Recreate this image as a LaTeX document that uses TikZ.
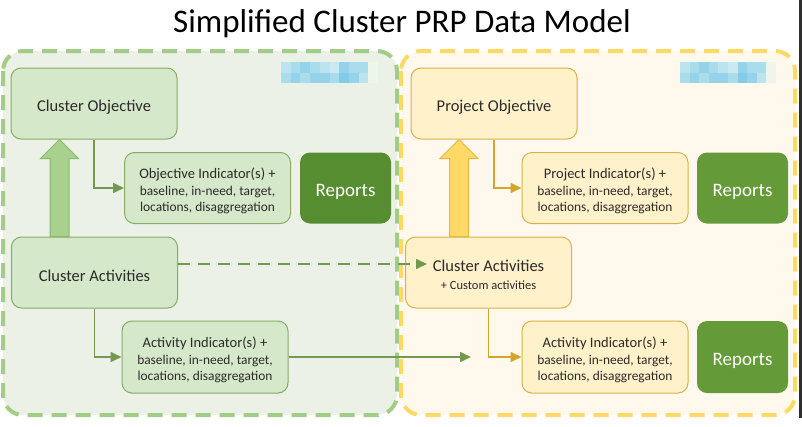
\documentclass[tikz,border=0pt]{standalone}
\usepackage{fontspec}
\setmainfont{Carlito}
\usetikzlibrary{arrows.meta,calc}
\definecolor{gcontfill}{HTML}{EBF1E6}
\definecolor{gcontline}{HTML}{A3CD86}
\definecolor{gboxfill}{HTML}{D6E8CA}
\definecolor{gboxline}{HTML}{86AC68}
\definecolor{garrfill}{HTML}{A9D18E}
\definecolor{garrline}{HTML}{8DB870}
\definecolor{gconn}{HTML}{73984F}
\definecolor{repA}{HTML}{568D30}
\definecolor{repB}{HTML}{659A38}
\definecolor{ycontfill}{HTML}{FEF9EC}
\definecolor{ycontline}{HTML}{FFD966}
\definecolor{yboxfill}{HTML}{FFF1C9}
\definecolor{yboxline}{HTML}{D9B24A}
\definecolor{yarrfill}{HTML}{FFD966}
\definecolor{yarrline}{HTML}{E2B847}
\definecolor{yconn}{HTML}{D4A52C}
\definecolor{txt}{HTML}{2A2A2A}
\definecolor{lbA}{HTML}{A9DDEC}
\definecolor{lbB}{HTML}{94D3E9}
\definecolor{lbC}{HTML}{BCE4EF}
\definecolor{lbD}{HTML}{82CCE8}
\definecolor{lbE}{HTML}{CBE9F0}
\definecolor{lbF}{HTML}{EEF5EA}
\newcommand{\lowerby}[1]{\rule{0pt}{#1}}
\begin{document}
\begin{tikzpicture}[x=1pt,y=-1pt,
  container/.style={rounded corners=20pt, line width=4pt, dash pattern=on 15pt off 9pt},
  gbox/.style={draw=gboxline, fill=gboxfill, line width=1pt, rounded corners=10pt, inner sep=0pt, align=center, text=txt},
  ybox/.style={draw=yboxline, fill=yboxfill, line width=1pt, rounded corners=10pt, inner sep=0pt, align=center, text=txt},
  objsize/.style={minimum width=166pt, minimum height=71pt, font=\fontsize{16.5}{20}\selectfont},
  indsize/.style={minimum width=166pt, minimum height=71pt, font=\fontsize{13.4}{16.5}\selectfont},
  repbox/.style={rounded corners=10pt, inner sep=0pt, minimum width=91pt, minimum height=71pt, text=white, font=\fontsize{19}{22}\selectfont},
  gconnector/.style={draw=gconn, line width=1.6pt, -{Triangle[length=11pt,width=10pt]}},
  yconnector/.style={draw=yconn, line width=1.6pt, -{Triangle[length=11pt,width=10pt]}},
  bigG/.style={draw=garrline, fill=garrfill, line width=1pt},
  bigY/.style={draw=yarrline, fill=yarrfill, line width=1pt},
]
\useasboundingbox (0,0) rectangle (802,426);
\fill[white] (0,0) rectangle (802,426);
\fill[black!82] (799,0) rectangle (802,418);

% title
\node[font=\fontsize{33}{38}\selectfont, text=black] (title) at (402,23.5) {Simplified Cluster PRP Data Model};

% containers
\draw[container, draw=gcontline, fill=gcontfill] (3,51) rectangle (397,415);
\draw[container, draw=ycontline, fill=ycontfill] (401,51) rectangle (795,415);

% blurred logos
\foreach \i/\ca/\cb in {0/lbC/lbA,1/lbA/lbB,2/lbB/lbA,3/lbA/lbB,4/lbC/lbB,5/lbE/lbA,6/lbB/lbD,7/lbA/lbB,8/lbA/lbC,9/lbF/lbF}{
  \fill[\ca] (281+\i*9.7,62) rectangle ++(9.7,10.5);
  \fill[\cb] (281+\i*9.7,72.5) rectangle ++(9.7,10.5);
  \fill[\ca] (680+\i*9.6,62) rectangle ++(9.6,10.5);
  \fill[\cb] (680+\i*9.6,72.5) rectangle ++(9.6,10.5);
}

% green nodes
\node[gbox, objsize] (cobj) at (94,103.5) {\lowerby{18pt}Cluster Objective};
\node[gbox, indsize] (oind) at (207.5,188) {{\fontsize{14.5}{16.5}\selectfont\lowerby{17pt}Objective Indicator(s) +}\\baseline, in-need, target,\\locations, disaggregation};
\node[repbox, fill=repA] (rep1) at (345.5,188) {\lowerby{20pt}Reports};
\node[gbox, objsize] (cact) at (94.5,272.5) {\lowerby{18pt}Cluster Activities};
\node[gbox, indsize, minimum height=72pt] (aind) at (205,357) {{\fontsize{14.5}{16.5}\selectfont\lowerby{17pt}Activity Indicator(s) +}\\baseline, in-need, target,\\locations, disaggregation};

% yellow nodes
\node[ybox, objsize] (pobj) at (494,103.5) {\lowerby{18pt}Project Objective};
\node[ybox, indsize] (pind) at (605,188) {{\fontsize{14.5}{16.5}\selectfont\lowerby{17pt}Project Indicator(s) +}\\baseline, in-need, target,\\locations, disaggregation};
\node[repbox, fill=repB] (rep2) at (742.5,188) {\lowerby{20pt}Reports};
\node[ybox, objsize] (yact) at (488.5,272.5) {\lowerby{16pt}Cluster Activities\\[-2pt]{\fontsize{12.5}{15}\selectfont + Custom activities}};
\node[ybox, indsize, minimum height=72pt] (yaind) at (605,357) {{\fontsize{14.5}{16.5}\selectfont\lowerby{17pt}Activity Indicator(s) +}\\baseline, in-need, target,\\locations, disaggregation};
\node[repbox, fill=repB, minimum height=72pt] (rep3) at (742.5,357) {\lowerby{20pt}Reports};

% big arrows
\coordinate (gx) at (59.5,0);
\coordinate (yx) at (459,0);
\draw[bigG] ($(cact.north -| gx)+(-9.5,0)$) -- ($(cobj.south -| gx)+(-9.5,19)$) -- ($(cobj.south -| gx)+(-19,19)$) -- (cobj.south -| gx) -- ($(cobj.south -| gx)+(19,19)$) -- ($(cobj.south -| gx)+(9.5,19)$) -- ($(cact.north -| gx)+(9.5,0)$) -- cycle;
\draw[bigY] ($(yact.north -| yx)+(-9.5,0)$) -- ($(pobj.south -| yx)+(-9.5,19)$) -- ($(pobj.south -| yx)+(-19,19)$) -- (pobj.south -| yx) -- ($(pobj.south -| yx)+(19,19)$) -- ($(pobj.south -| yx)+(9.5,19)$) -- ($(yact.north -| yx)+(9.5,0)$) -- cycle;

% connectors
\draw[gconnector] (cobj.south) |- (oind.west);
\draw[gconnector] (cact.south) |- (aind.west);
\draw[yconnector] (pobj.south) |- (pind.west);
\draw[yconnector] (yact.south) |- (yaind.west);
\coordinate (dtip) at (427,264);
\draw[gconnector, dash pattern=on 12pt off 8pt] (cact.east |- dtip) -- (dtip);
\coordinate (stip) at (471,357);
\draw[gconnector] (aind.east) -- (stip);
\end{tikzpicture}
\end{document}
